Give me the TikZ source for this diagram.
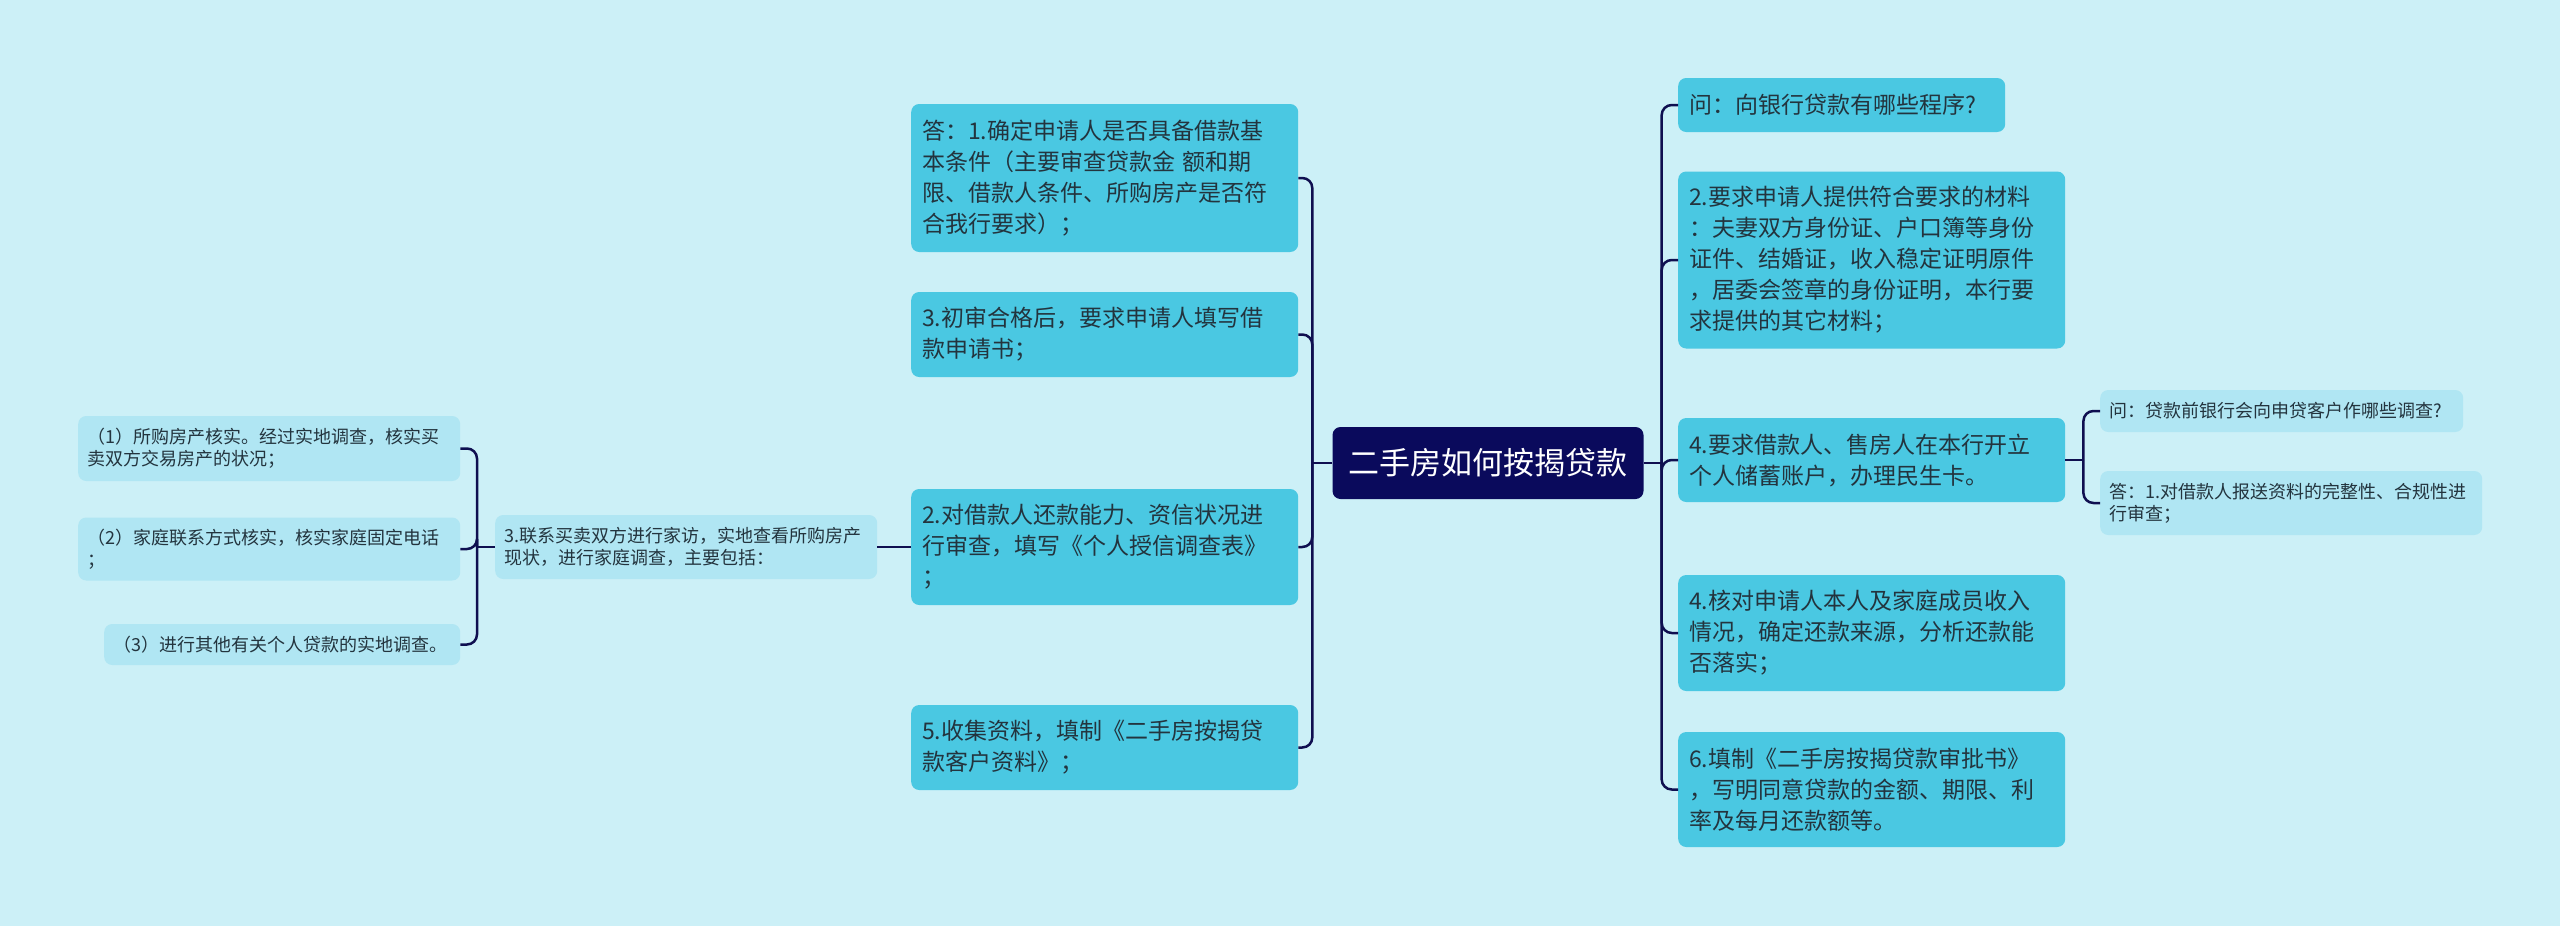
\documentclass[tikz,border=0pt]{standalone}
\usepackage{fontspec}
\setmainfont{Noto Sans CJK SC}
\usetikzlibrary{positioning}
\definecolor{bgcyan}{RGB}{204,240,247}
\definecolor{boxcyan}{RGB}{74,200,226}
\definecolor{leafcyan}{RGB}{176,230,243}
\definecolor{rootnavy}{RGB}{10,10,92}
\definecolor{linknavy}{RGB}{15,15,80}
\definecolor{inkdark}{RGB}{35,52,62}

\tikzset{
  rootbox/.style={fill=rootnavy, text=white, rounded corners=8pt, minimum width=311pt, minimum height=72pt, inner xsep=15pt, font=\fontsize{31pt}{36pt}\selectfont},
  stepbox/.style={fill=boxcyan, text=inkdark, rounded corners=8pt, text width=365pt, inner xsep=11pt, align=left, font=\fontsize{23pt}{31pt}\selectfont},
  leafbox/.style={fill=leafcyan, text=inkdark, rounded corners=8pt, text width=364pt, inner xsep=9pt, align=left, font=\fontsize{18pt}{22pt}\selectfont},
  link/.style={draw=linknavy, line width=2.5pt, rounded corners=10pt},
}

\begin{document}
\begin{tikzpicture}[x=1pt, y=-1pt]
  \useasboundingbox (0,0) rectangle (2560,926);
  \fill[bgcyan] (0,0) rectangle (2560,926);

  % ===== Root =====
  \node[rootbox] (root) at (1488,463) {二手房如何按揭贷款};

  % ===== Left branch =====
  \node[stepbox, anchor=west, minimum height=148pt] (a1) at (911,178) {答：1.确定申请人是否具备借款基\\本条件（主要审查贷款金 额和期\\限、借款人条件、所购房产是否符\\合我行要求）；};
  \node[stepbox, anchor=west, minimum height=85pt] (a3) at (911,334.5) {3.初审合格后，要求申请人填写借\\款申请书；};
  \node[stepbox, anchor=west, minimum height=116pt] (a2) at (911,547) {2.对借款人还款能力、资信状况进\\行审查，填写《个人授信调查表》\\；};
  \node[stepbox, anchor=west, minimum height=85pt] (a5) at (911,747.5) {5.收集资料，填制《二手房按揭贷\\款客户资料》；};

  % Home visit and its checks
  \node[leafbox, anchor=west, minimum height=64pt] (visit) at (495,547) {3.联系买卖双方进行家访，实地查看所购房产\\现状，进行家庭调查，主要包括：};
  \node[leafbox, anchor=west, minimum height=65pt] (chk1) at (78,448.5) {（1）所购房产核实。经过实地调查，核实买\\卖双方交易房产的状况；};
  \node[leafbox, anchor=west, minimum height=63pt] (chk2) at (78,549) {（2）家庭联系方式核实，核实家庭固定电话\\；};
  \node[leafbox, anchor=west, minimum height=41pt, text width=338pt] (chk3) at (104,644.5) {（3）进行其他有关个人贷款的实地调查。};

  % ===== Right branch =====
  \node[stepbox, anchor=west, minimum height=54pt, text width=305pt] (q1) at (1678,105) {问：向银行贷款有哪些程序?};
  \node[stepbox, anchor=west, minimum height=177pt] (b2) at (1678,260) {2.要求申请人提供符合要求的材料\\：夫妻双方身份证、户口簿等身份\\证件、结婚证，收入稳定证明原件\\，居委会签章的身份证明，本行要\\求提供的其它材料；};
  \node[stepbox, anchor=west, minimum height=84pt] (b4) at (1678,460) {4.要求借款人、售房人在本行开立\\个人储蓄账户，办理民生卡。};
  \node[stepbox, anchor=west, minimum height=116pt] (b4b) at (1678,633) {4.核对申请人本人及家庭成员收入\\情况，确定还款来源，分析还款能\\否落实；};
  \node[stepbox, anchor=west, minimum height=115pt] (b6) at (1678,789.5) {6.填制《二手房按揭贷款审批书》\\，写明同意贷款的金额、期限、利\\率及每月还款额等。};

  % Survey question and answer
  \node[leafbox, anchor=west, minimum height=42pt, text width=345pt] (q2) at (2100,411) {问：贷款前银行会向申贷客户作哪些调查?};
  \node[leafbox, anchor=west, minimum height=64pt] (r2) at (2100,503) {答：1.对借款人报送资料的完整性、合规性进\\行审查；};

  % ===== Links =====
  \draw[link] (root.west) -- ++(-20,0) coordinate (jleft);
  \foreach \n in {a1,a3,a2,a5}
    \draw[link] (jleft) |- (\n.east);
  \draw[link] (root.east) -- ++(18,0) coordinate (jright);
  \foreach \n in {q1,b2,b4b,b6}
    \draw[link] (jright) |- (\n.west);
  \draw[link] (jright) -- (jright |- b4.west) -- (b4.west);
  \draw[link] (b4.east) -- ++(18,0) coordinate (jqa);
  \foreach \n in {q2,r2}
    \draw[link] (jqa) |- (\n.west);
  \draw[link] (a2.west) -- (visit.east);
  \draw[link] (visit.west) -- ++(-18,0) coordinate (jvisit);
  \foreach \n in {chk1,chk3}
    \draw[link] (jvisit) |- (\n.east);
  \draw[link] (jvisit) -- (jvisit |- chk2.east) -- (chk2.east);
\end{tikzpicture}
\end{document}
